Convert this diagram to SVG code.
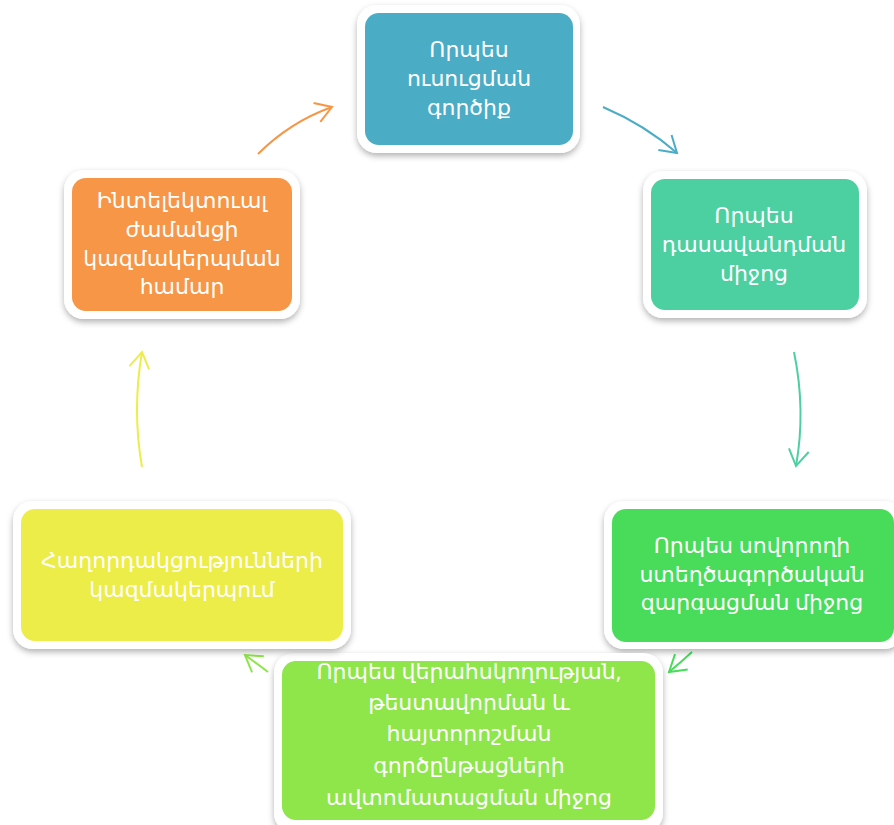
<svg xmlns="http://www.w3.org/2000/svg" width="894" height="825" viewBox="0 0 894 825">
<defs>
<filter id="sh" x="-10%" y="-10%" width="120%" height="130%">
<feDropShadow dx="0" dy="3" stdDeviation="3" flood-color="#000" flood-opacity="0.3"/>
</filter>
<marker id="mBlue" viewBox="0 0 20 24" refX="18" refY="12" markerWidth="20" markerHeight="24" markerUnits="userSpaceOnUse" orient="auto"><path d="M2,2 L18,12 L2,22" fill="none" stroke="#4BACC6" stroke-width="2"/></marker>
<marker id="mTeal" viewBox="0 0 20 24" refX="18" refY="12" markerWidth="20" markerHeight="24" markerUnits="userSpaceOnUse" orient="auto"><path d="M2,2 L18,12 L2,22" fill="none" stroke="#4DD0A1" stroke-width="2"/></marker>
<marker id="mGreen" viewBox="0 0 20 24" refX="18" refY="12" markerWidth="20" markerHeight="24" markerUnits="userSpaceOnUse" orient="auto"><path d="M2,2 L18,12 L2,22" fill="none" stroke="#48DC5A" stroke-width="2"/></marker>
<marker id="mLime" viewBox="0 0 20 24" refX="18" refY="12" markerWidth="20" markerHeight="24" markerUnits="userSpaceOnUse" orient="auto"><path d="M2,2 L18,12 L2,22" fill="none" stroke="#8EE64A" stroke-width="2"/></marker>
<marker id="mYellow" viewBox="0 0 20 24" refX="18" refY="12" markerWidth="20" markerHeight="24" markerUnits="userSpaceOnUse" orient="auto"><path d="M2,2 L18,12 L2,22" fill="none" stroke="#EDED49" stroke-width="2"/></marker>
<marker id="mOrange" viewBox="0 0 20 24" refX="18" refY="12" markerWidth="20" markerHeight="24" markerUnits="userSpaceOnUse" orient="auto"><path d="M2,2 L18,12 L2,22" fill="none" stroke="#F79646" stroke-width="2"/></marker>
</defs>
<style>
.outer{fill:#fff;filter:url(#sh);}
.lbl{fill:#fff;font-family:"Noto Sans","DejaVu Sans",sans-serif;font-size:22px;text-anchor:middle;}
.conn{fill:none;stroke-width:2;}
</style>
<rect x="0" y="0" width="894" height="825" fill="#fff"/>
<g id="connectors">
<path class="conn" d="M603,107 Q645,125 677,153" stroke="#4BACC6" marker-end="url(#mBlue)"/>
<path class="conn" d="M794,352 Q806,410 796,466" stroke="#4DD0A1" marker-end="url(#mTeal)"/>
<path class="conn" d="M692,652 Q680,663 669,672" stroke="#48DC5A" marker-end="url(#mGreen)"/>
<path class="conn" d="M268,672 Q256,663 245,655" stroke="#8EE64A" marker-end="url(#mLime)"/>
<path class="conn" d="M142,467 Q132,410 142,352" stroke="#EDED49" marker-end="url(#mYellow)"/>
<path class="conn" d="M258,154 Q290,122 332,107" stroke="#F79646" marker-end="url(#mOrange)"/>
</g>
<g id="node1">
<rect class="outer" x="357" y="5" width="223" height="148" rx="20"/>
<rect x="365" y="13" width="208" height="132" rx="14" fill="#4BACC6"/>
<text class="lbl" x="469"><tspan x="469" y="57">Որպես</tspan><tspan x="469" y="86">ուսուցման</tspan><tspan x="469" y="115">գործիք</tspan></text>
</g>
<g id="node2">
<rect class="outer" x="643" y="171" width="224" height="147" rx="20"/>
<rect x="651" y="179" width="208" height="131" rx="14" fill="#4DD0A1"/>
<text class="lbl" x="754"><tspan x="754" y="223">Որպես</tspan><tspan x="754" y="252">դասավանդման</tspan><tspan x="754" y="281">միջոց</tspan></text>
</g>
<g id="node3">
<rect class="outer" x="604" y="501" width="300" height="148" rx="20"/>
<rect x="612" y="509" width="282" height="133" rx="14" fill="#48DC5A"/>
<text class="lbl" x="752"><tspan x="752" y="553">Որպես սովորողի</tspan><tspan x="752" y="582">ստեղծագործական</tspan><tspan x="752" y="610">զարգացման միջոց</tspan></text>
</g>
<g id="node4">
<rect class="outer" x="274" y="653" width="389" height="180" rx="20"/>
<rect x="282" y="661" width="373" height="159" rx="14" fill="#8EE64A"/>
<text class="lbl" x="469"><tspan x="469" y="679">Որպես վերահսկողության,</tspan><tspan x="469" y="710">թեստավորման և</tspan><tspan x="469" y="741">հայտորոշման</tspan><tspan x="469" y="773">գործընթացների</tspan><tspan x="469" y="805">ավտոմատացման միջոց</tspan></text>
</g>
<g id="node5">
<rect class="outer" x="13" y="501" width="338" height="148" rx="20"/>
<rect x="21" y="509" width="322" height="132" rx="14" fill="#EDED49"/>
<text class="lbl" x="182"><tspan x="182" y="568">Հաղորդակցությունների</tspan><tspan x="182" y="597">կազմակերպում</tspan></text>
</g>
<g id="node6">
<rect class="outer" x="64" y="170" width="236" height="149" rx="20"/>
<rect x="72" y="178" width="220" height="133" rx="14" fill="#F79646"/>
<text class="lbl" x="182"><tspan x="182" y="208">Ինտելեկտուալ</tspan><tspan x="182" y="237">ժամանցի</tspan><tspan x="182" y="266">կազմակերպման</tspan><tspan x="182" y="294">համար</tspan></text>
</g>
</svg>
